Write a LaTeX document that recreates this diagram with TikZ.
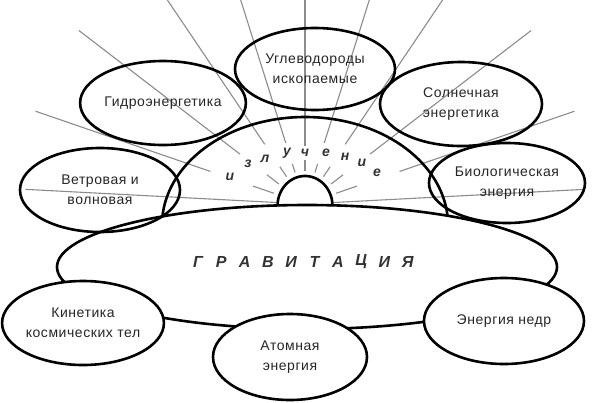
\documentclass[tikz,border=0pt]{standalone}
\usepackage{fontspec}
\setmainfont{Liberation Sans}
\newfontfamily\bubfont[LetterSpace=4]{Liberation Sans}
\usetikzlibrary{calc,shapes.geometric}
\begin{document}
\begin{tikzpicture}[x=1pt,y=-1pt,
  bub/.style={ellipse, draw=black, line width=2.6pt, inner sep=0pt, align=center,
    font=\bubfont\fontsize{14}{20}\selectfont, text=black!85},
  bubfill/.style={bub, fill=white},
  raystyle/.style={draw=black!45, line width=1.1pt},
  shapeline/.style={draw=black, line width=2.6pt},
  gravletter/.style={font=\fontsize{16}{18}\selectfont\bfseries\itshape, text=black!80, inner sep=0pt},
  raylet/.style={font=\fontsize{14}{16}\selectfont\bfseries\itshape, text=black!80, inner sep=0pt}]
\useasboundingbox (0,0) rectangle (592,402);
\clip (0,0) rectangle (592,402);
\fill[white] (0,0) rectangle (592,402);
\coordinate (C) at (305,204);
% rays
\foreach \a/\ri/\ro/\os in {0/33/44/58, 17.5/33/42/64, 34/33/45/72, 52.5/33/48/82, 71/33/55/100}{
  \foreach \s in {1,-1}{
    \draw[raystyle] ($(C)+(-90+\s*\a:\ri)$) -- ($(C)+(-90+\s*\a:\ro)$);
    \draw[raystyle] ($(C)+(-90+\s*\a:\os)$) -- ($(C)+(-90+\s*\a:285)$);
  }
}
\foreach \s in {1,-1}{
  \draw[raystyle] ($(C)+(-90+\s*87:29)$) -- ($(C)+(-90+\s*87:280)$);
}
% dome and small semicircle
\draw[shapeline] plot[smooth, domain=5:175, samples=90] ({305+143*cos(\x)},{225-108*sin(\x)});
\draw[shapeline] plot[smooth, domain=0:180, samples=60] ({305+27.5*cos(\x)},{206-30*sin(\x)});
% upper ellipses
\node[bub, minimum width=158pt, minimum height=84pt] (hydro) at (163,103) {Гидроэнергетика};
\node[bub, minimum width=160pt, minimum height=82pt] (fossil) at (315,69) {Углеводороды\\ископаемые};
\node[bub, minimum width=162pt, minimum height=84pt] (solar) at (461,104) {Солнечная\\энергетика};
\node[bub, minimum width=160pt, minimum height=84pt] (wind) at (100,190) {Ветровая и\\волновая};
\node[bub, minimum width=156pt, minimum height=80pt] (bio) at (507,183) {Биологическая\\энергия};
% gravitation
\node[ellipse, draw=black, line width=2.6pt, minimum width=500pt, minimum height=124pt] (grav) at (307,267) {};
% lower ellipses
\node[bubfill, minimum width=160pt, minimum height=84pt] (kin) at (83,323) {Кинетика\\космических тел};
\node[bubfill, minimum width=154pt, minimum height=86pt] (atom) at (290,357) {Атомная\\энергия};
\node[bubfill, minimum width=160pt, minimum height=86pt] (nedr) at (504,321) {Энергия недр};
% words
\foreach \ch [count=\i from 0] in {Г,Р,А,В,И,Т,А,Ц,И,Я}
  \node[gravletter] (g\i) at ({198+23.3*\i},262) {\ch};
\foreach \ch/\px/\py [count=\i] in {и/230/177, з/248/164, л/265/159, у/287/153, ч/305/153, е/326/153, н/345/157, и/362/163, е/377/173}
  \node[raylet] (r\i) at (\px,\py) {\ch};
\end{tikzpicture}
\end{document}
